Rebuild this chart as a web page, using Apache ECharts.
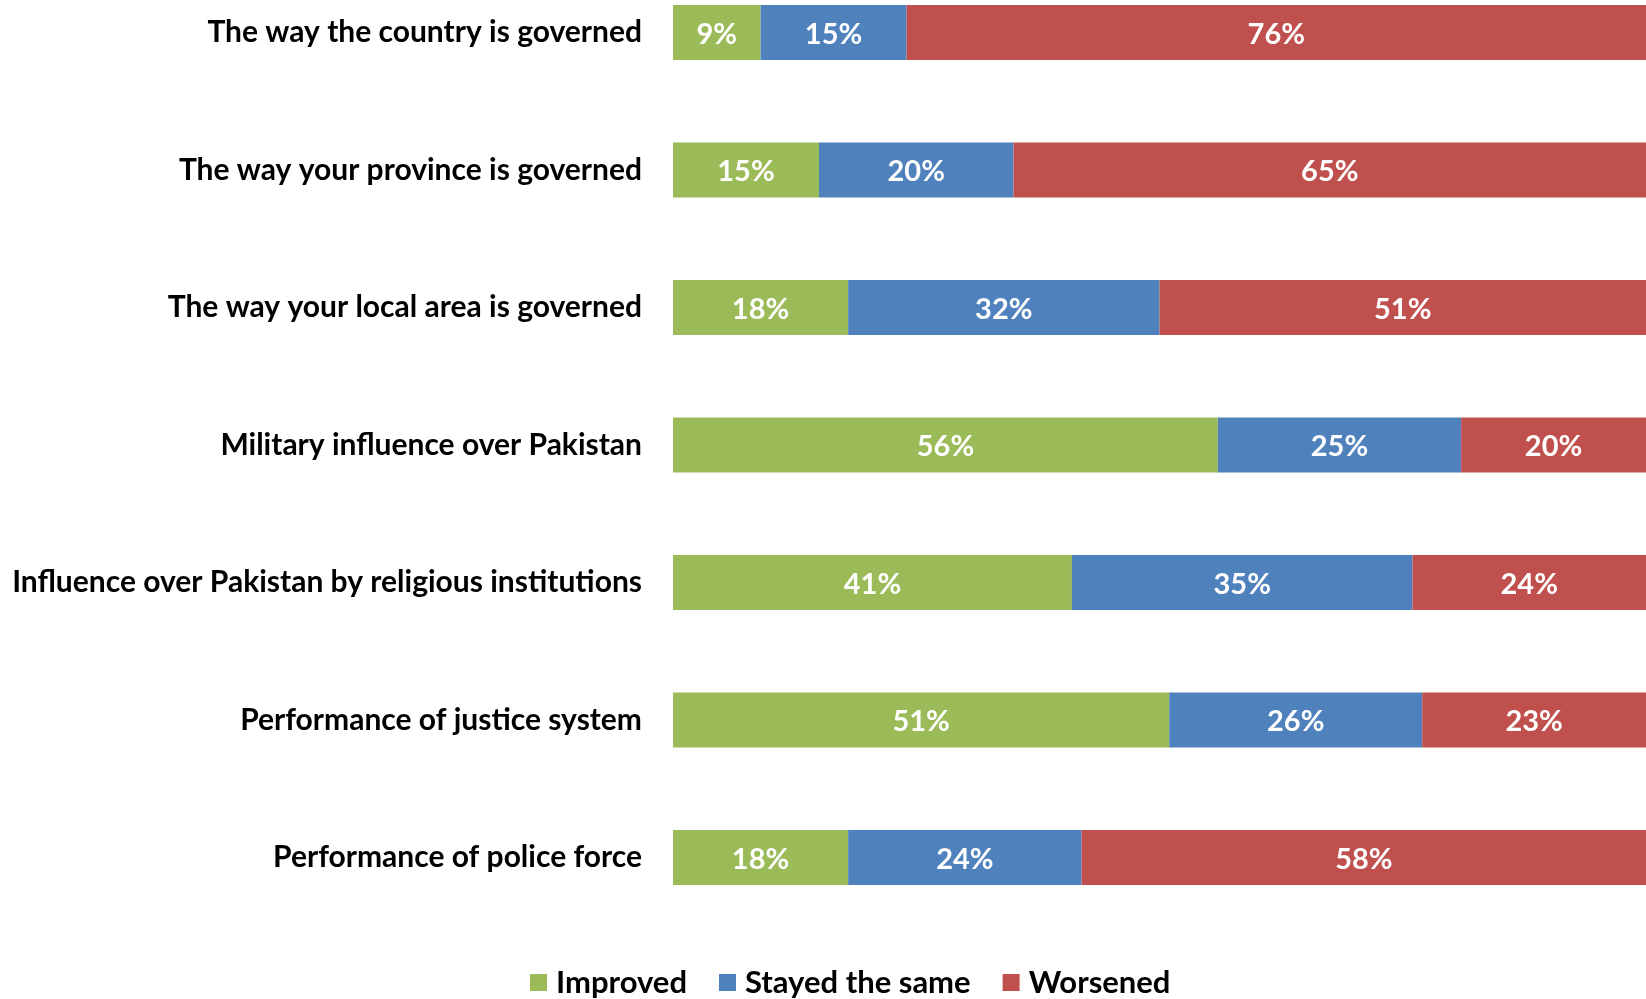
<!DOCTYPE html>
<html><head><meta charset="utf-8">
<script src="https://cdn.jsdelivr.net/npm/echarts@6/dist/echarts.min.js"></script>
<style>html,body{margin:0;padding:0;background:#fff}#c{width:1646px;height:999px}</style>
</head><body><div id="c"></div>
<script>
const categories = [
  "The way the country is governed",
  "The way your province is governed",
  "The way your local area is governed",
  "Military influence over Pakistan",
  "Influence over Pakistan by religious institutions",
  "Performance of justice system",
  "Performance of police force"
];
const improved = [9, 15, 18, 56, 41, 51, 18];
const stayed = [15, 20, 32, 25, 35, 26, 24];
const worsened = [76, 65, 51, 20, 24, 23, 58];
const seriesNames = ["Improved", "Stayed the same", "Worsened"];
const colors = ["#9BBB59", "#4F81BD", "#C0504D"];

const chart = echarts.init(document.getElementById('c'));
const FONT = 'Lato';
const mk = (name, data, color) => ({
  name, type: 'bar', stack: 'a', data, barWidth: 55, clip: true,
  itemStyle: { color },
  label: { show: true, position: 'inside', formatter: '{c}%', color: '#fff',
    fontFamily: FONT, fontWeight: 'bold', fontSize: 29, offset: [0, 2] }
});
chart.setOption({
  animation: false,
  textStyle: { fontFamily: FONT },
  grid: { left: 673, right: 0, top: 32.5, height: 825, containLabel: false },
  xAxis: { type: 'value', min: 0, max: 100, show: false },
  yAxis: { type: 'category', data: categories, inverse: true, boundaryGap: false,
    axisLine: { show: false }, axisTick: { show: false }, splitLine: { show: false },
    axisLabel: { margin: 31, color: '#000', fontFamily: FONT, fontWeight: 'bold', fontSize: 30 } },
  legend: { top: 962, left: 525, itemWidth: 17, itemHeight: 17, itemGap: 32,
    icon: 'rect', textStyle: { color: '#000', fontFamily: FONT, fontWeight: 'bold', fontSize: 31, padding: [0, 0, 0, 4] },
    data: seriesNames },
  series: [mk(seriesNames[0], improved, colors[0]), mk(seriesNames[1], stayed, colors[1]), mk(seriesNames[2], worsened, colors[2])]
});
</script></body></html>
